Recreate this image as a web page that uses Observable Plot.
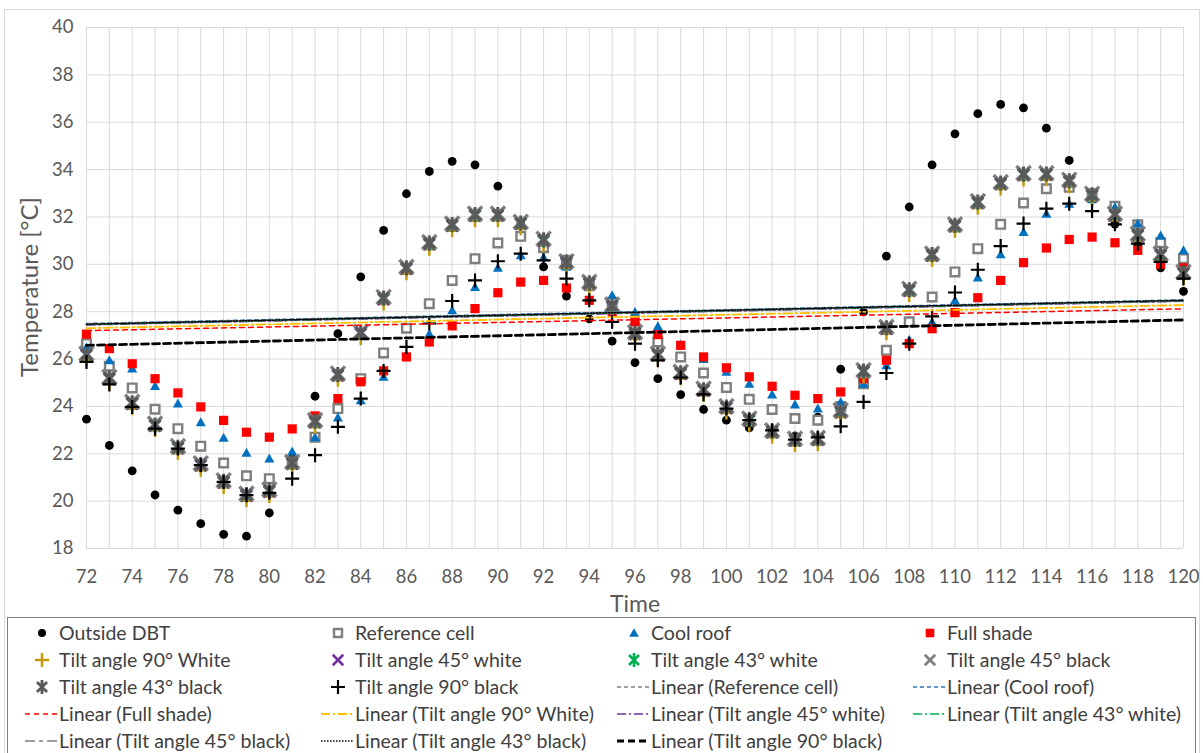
<!DOCTYPE html>
<html><head><meta charset="utf-8">
<script src="https://cdn.jsdelivr.net/npm/d3@7"></script>
<script src="https://cdn.jsdelivr.net/npm/@observablehq/plot@0.6"></script>
<style>
body{margin:0;background:#fff;font-family:Lato,"Open Sans",sans-serif;}
#wrap{position:relative;width:1203px;height:753px;overflow:hidden;}
#frame{position:absolute;left:4px;top:9px;width:1194px;height:760px;border:1px solid #d9d9d9;}
#chart{position:absolute;left:0;top:0;}
#ytitle{position:absolute;left:28px;top:287px;transform:translate(-50%,-50%) rotate(-90deg);font-size:24px;color:#595959;white-space:nowrap;}
#xtitle{position:absolute;left:635px;top:603px;transform:translate(-50%,-50%);font-size:23px;color:#595959;}
#legend{position:absolute;left:7px;top:617px;width:1189px;height:140px;border:1.5px solid #7f7f7f;box-sizing:border-box;background:#fff;}
</style></head>
<body><div id="wrap"><div id="frame"></div><div id="chart"></div>
<div id="ytitle">Temperature [°C]</div><div id="xtitle">Time</div><div id="legend"></div></div>
<script>
const hours = [72,73,74,75,76,77,78,79,80,81,82,83,84,85,86,87,88,89,90,91,92,93,94,95,96,97,98,99,100,101,102,103,104,105,106,107,108,109,110,111,112,113,114,115,116,117,118,119,120];
const xTicks = [72,74,76,78,80,82,84,86,88,90,92,94,96,98,100,102,104,106,108,110,112,114,116,118,120];
const yTicks = [18,20,22,24,26,28,30,32,34,36,38,40];

const outsideDBT = [23.46,22.35,21.28,20.26,19.62,19.05,18.6,18.52,19.5,
  21.8,24.43,27.07,29.47,31.43,32.98,33.92,34.35,34.2,33.3,
  31.7,29.89,28.66,27.7,26.76,25.85,25.17,24.5,23.87,23.42,
  23.09,22.9,22.75,23.55,25.57,27.99,30.35,32.42,34.2,35.51,
  36.36,36.75,36.61,35.75,34.39,32.9,31.7,30.8,29.85,28.86];
const referenceCell = [26.65,25.7,24.78,23.88,23.06,22.32,21.61,21.07,20.95,
  21.65,22.7,23.91,25.17,26.26,27.3,28.34,29.32,30.24,30.9,
  31.18,30.7,30.17,29.1,28.4,27.3,26.72,26.09,25.41,24.8,
  24.3,23.87,23.49,23.42,24.0,24.96,26.37,27.57,28.62,29.68,
  30.66,31.69,32.59,33.19,33.25,32.98,32.45,31.67,30.91,30.24];
const coolRoof = [26.5,25.95,25.6,24.86,24.12,23.33,22.68,22.04,21.8,
  22.1,22.7,23.53,24.26,25.25,26.15,27.07,28.06,29.04,29.86,
  30.38,30.3,29.9,29.3,28.69,27.99,27.38,26.6,26.0,25.46,
  24.96,24.5,24.08,23.91,24.19,24.96,25.74,26.8,27.57,28.48,
  29.44,30.42,31.36,32.14,32.56,32.75,32.42,31.72,31.22,30.59];
const fullShade = [27.05,26.44,25.8,25.17,24.57,23.98,23.41,22.91,22.7,
  23.05,23.6,24.33,25.04,25.5,26.09,26.72,27.4,28.13,28.8,
  29.25,29.32,29.0,28.48,28.0,27.57,27.03,26.58,26.09,25.63,
  25.25,24.85,24.47,24.33,24.61,25.17,25.95,26.65,27.28,27.96,
  28.59,29.32,30.07,30.69,31.05,31.15,30.91,30.59,30.0,29.85];
const tilt90White = [25.95,24.95,23.9,22.98,22.02,21.3,20.58,20.02,20.2,
  21.38,23.12,25.1,26.86,28.32,29.6,30.64,31.42,31.84,31.85,
  31.5,30.78,29.84,28.97,28.0,26.85,25.94,25.17,24.46,23.72,
  23.2,22.7,22.35,22.38,23.54,25.24,27.07,28.68,30.16,31.4,
  32.38,33.18,33.56,33.57,33.28,32.7,31.85,31.0,30.16,29.4];
const tilt45White = [26.15,25.15,24.1,23.17,22.22,21.5,20.78,20.22,20.4,
  21.57,23.32,25.3,27.06,28.52,29.8,30.84,31.62,32.04,32.05,
  31.7,30.98,30.04,29.17,28.2,27.05,26.14,25.37,24.66,23.92,
  23.4,22.9,22.55,22.58,23.74,25.44,27.27,28.88,30.36,31.6,
  32.58,33.38,33.76,33.77,33.48,32.9,32.05,31.2,30.36,29.6];
const tilt43White = [26.18,25.18,24.13,23.2,22.25,21.53,20.81,20.25,20.42,
  21.6,23.35,25.33,27.09,28.55,29.83,30.87,31.65,32.07,32.08,
  31.72,31.0,30.07,29.2,28.23,27.08,26.17,25.4,24.68,23.95,
  23.42,22.93,22.58,22.6,23.77,25.47,27.3,28.9,30.39,31.62,
  32.6,33.4,33.78,33.79,33.5,32.92,32.08,31.22,30.38,29.62];
const tilt45Black = [26.23,25.24,24.19,23.27,22.32,21.6,20.88,20.32,20.49,
  21.66,23.42,25.39,27.15,28.62,29.89,30.94,31.72,32.14,32.14,
  31.79,31.08,30.13,29.26,28.3,27.14,26.23,25.46,24.75,24.01,
  23.49,22.99,22.64,22.67,23.84,25.53,27.36,28.97,30.45,31.69,
  32.67,33.47,33.85,33.85,33.57,32.98,32.14,31.29,30.45,29.68];
const tilt43Black = [26.2,25.2,24.15,23.22,22.28,21.55,20.84,20.28,20.45,
  21.62,23.38,25.35,27.12,28.58,29.85,30.9,31.68,32.1,32.1,
  31.75,31.04,30.1,29.22,28.26,27.1,26.2,25.42,24.7,23.97,
  23.45,22.95,22.6,22.63,23.8,25.5,27.32,28.93,30.41,31.65,
  32.63,33.43,33.81,33.81,33.53,32.94,32.1,31.25,30.41,29.64];
const tilt90Black = [25.88,24.93,23.98,23.06,22.22,21.52,20.81,20.25,20.35,
  20.95,21.94,23.14,24.33,25.5,26.51,27.5,28.45,29.32,30.13,
  30.45,30.17,29.4,28.48,27.57,26.65,25.95,25.22,24.51,23.91,
  23.42,22.99,22.6,22.69,23.16,24.19,25.41,26.65,27.8,28.81,
  29.77,30.77,31.72,32.35,32.56,32.25,31.69,30.87,30.1,29.4];

// linear trendline end values (at 72 and 120)
const trendNames = ["Reference cell","Cool roof","Full shade","Tilt angle 90° White","Tilt angle 45° white","Tilt angle 43° white","Tilt angle 45° black","Tilt angle 43° black","Tilt angle 90° black"];
const trendStart = [27.45,27.5,27.2,27.3,27.44,27.46,27.48,27.47,26.58];
const trendEnd   = [28.45,28.5,28.12,28.28,28.44,28.46,28.47,28.48,27.65];

// ---- symbols (half extent = r) ----
const circleSym = d3.symbolCircle;
const squareSym = {draw(c,s){const h=Math.sqrt(s/Math.PI);c.moveTo(-h,-h);c.lineTo(h,-h);c.lineTo(h,h);c.lineTo(-h,h);c.closePath();}};
const triSym = {draw(c,s){const h=Math.sqrt(s/Math.PI);c.moveTo(0,-h);c.lineTo(h,h*0.8);c.lineTo(-h,h*0.8);c.closePath();}};
const plusSym = {draw(c,s){const h=Math.sqrt(s/Math.PI);c.moveTo(-h,0);c.lineTo(h,0);c.moveTo(0,-h);c.lineTo(0,h);}};
const timesSym = {draw(c,s){const h=Math.sqrt(s/Math.PI)*0.75;c.moveTo(-h,-h);c.lineTo(h,h);c.moveTo(-h,h);c.lineTo(h,-h);}};
const starSym = {draw(c,s){const r=Math.sqrt(s/Math.PI);const h=r*0.72;c.moveTo(-h,-h);c.lineTo(h,h);c.moveTo(-h,h);c.lineTo(h,-h);c.moveTo(0,-r);c.lineTo(0,r);}};

const series = [
  {name:"Outside DBT", values:outsideDBT, sym:circleSym, r:4.4, fill:"#000", stroke:"none", sw:0},
  {name:"Reference cell", values:referenceCell, sym:squareSym, r:4.3, fill:"#fff", stroke:"#7f7f7f", sw:2.4},
  {name:"Cool roof", values:coolRoof, sym:triSym, r:5, fill:"#0070c0", stroke:"none", sw:0},
  {name:"Full shade", values:fullShade, sym:squareSym, r:4.6, fill:"#ff0000", stroke:"none", sw:0},
  {name:"Tilt angle 90° White", values:tilt90White, sym:plusSym, r:6.5, fill:"none", stroke:"#c49a0a", sw:2.5},
  {name:"Tilt angle 45° white", values:tilt45White, sym:timesSym, r:7.5, fill:"none", stroke:"#7030a0", sw:2.6},
  {name:"Tilt angle 43° white", values:tilt43White, sym:starSym, r:7, fill:"none", stroke:"#00b050", sw:2.6},
  {name:"Tilt angle 45° black", values:tilt45Black, sym:timesSym, r:9.5, fill:"none", stroke:"#7f7f7f", sw:3.4},
  {name:"Tilt angle 43° black", values:tilt43Black, sym:starSym, r:7.5, fill:"none", stroke:"#595959", sw:3},
  {name:"Tilt angle 90° black", values:tilt90Black, sym:plusSym, r:7, fill:"none", stroke:"#000", sw:2.2}
];
const trendStyles = [
  {stroke:"#7f7f7f", dash:"4,3", w:1.5},
  {stroke:"#2e75b6", dash:"4,3", w:1.5},
  {stroke:"#ff0000", dash:"5,4", w:1.5},
  {stroke:"#ffc000", dash:"9,3,2,3", w:1.8},
  {stroke:"#7030a0", dash:"9,3,2,3", w:1.5},
  {stroke:"#00b050", dash:"9,3,2,3", w:1.5},
  {stroke:"#7f7f7f", dash:"10,4,4,4", w:1.5},
  {stroke:"#000000", dash:"1.5,1.5", w:1.5},
  {stroke:"#000000", dash:"7,4", w:2.8}
];

const dotMarks = series.map(s => Plot.dot(hours.map((h,i)=>({hour:h, value:s.values[i]})), {
  x:"hour", y:"value", symbol:s.sym, r:s.r, fill:s.fill, stroke:s.stroke, strokeWidth:s.sw
}));
const trendMarks = trendNames.map((n,i) => Plot.line([{hour:72,value:trendStart[i]},{hour:120,value:trendEnd[i]}], {
  x:"hour", y:"value", stroke:trendStyles[i].stroke, strokeDasharray:trendStyles[i].dash, strokeWidth:trendStyles[i].w
}));

const chart = Plot.plot({
  width:1203, height:620,
  marginLeft:86, marginRight:20, marginTop:27, marginBottom:72,
  style:{fontFamily:"Lato, sans-serif", fontSize:"18.5px", color:"#595959", background:"transparent", overflow:"visible"},
  x:{domain:[72,120], ticks:xTicks, tickSize:0, tickPadding:21, label:null},
  y:{domain:[18,40], ticks:yTicks, tickSize:0, tickPadding:13, label:null},
  marks:[
    Plot.ruleX(hours, {stroke:"#d9d9d9", strokeWidth:1}),
    Plot.ruleY(yTicks, {stroke:"#d9d9d9", strokeWidth:1}),
    ...dotMarks,
    ...trendMarks
  ]
});
document.getElementById("chart").appendChild(chart);

// ---- legend ----
const legendEntries = [
  ...series.map(s=>({label:s.name, kind:"sym", s})),
  ...trendNames.map((n,i)=>({label:`Linear (${n})`, kind:"line", t:trendStyles[i]}))
];
const lg = d3.select("#legend").append("svg").attr("width",1186).attr("height",136)
  .style("font-family","Lato, sans-serif").style("font-size","19.5px");
const colX = [17,313,609,905], rowY = [15,42,69,96,123];
const legendScale = {"Outside DBT":4,"Reference cell":4,"Cool roof":4.8,"Full shade":4.3};
legendEntries.forEach((e,i)=>{
  const cx = colX[i%4], cy = rowY[Math.floor(i/4)];
  const g = lg.append("g").attr("transform",`translate(${cx},${cy})`);
  if (e.kind==="sym") {
    const r = legendScale[e.label] || 7;
    const p = d3.path(); e.s.sym.draw(p, r*r*Math.PI);
    g.append("path").attr("d", p.toString()).attr("transform","translate(17,0)")
      .attr("fill", e.s.fill).attr("stroke", e.s.stroke).attr("stroke-width", e.s.sw ? Math.min(e.s.sw,2.8) : 0);
  } else {
    g.append("line").attr("x1",0).attr("x2",33).attr("y1",0).attr("y2",0)
      .attr("stroke",e.t.stroke).attr("stroke-dasharray",e.t.dash).attr("stroke-width",e.t.w);
  }
  g.append("text").attr("x",34).attr("y",0).attr("dy","0.35em").attr("fill","#404040").text(e.label);
});
</script></body></html>
